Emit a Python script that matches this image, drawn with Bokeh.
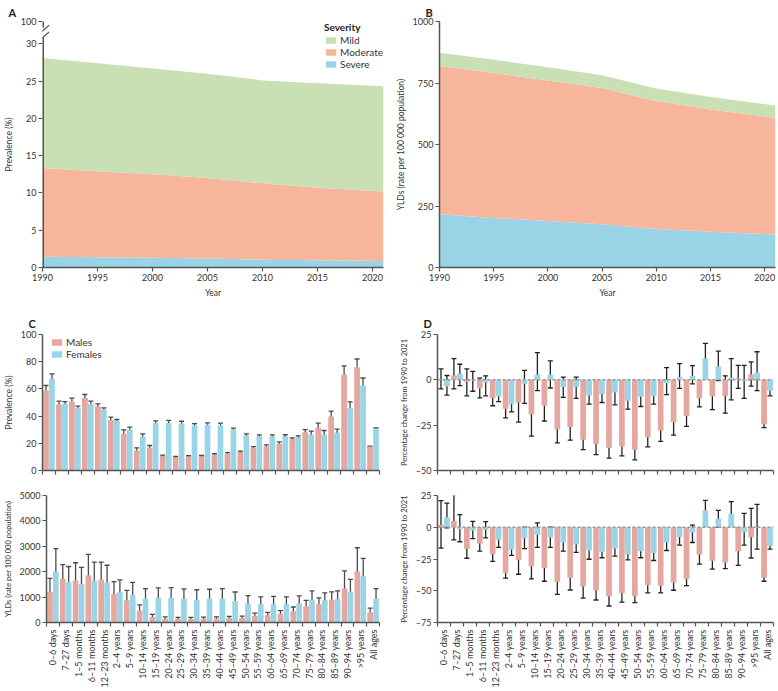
import numpy as np
from math import pi
from bokeh.plotting import figure
from bokeh.layouts import column, row
from bokeh.models import (ColumnDataSource, FixedTicker, Whisker, TeeHead, Legend,
                          LegendItem, Span, Arrow)
from bokeh.embed import file_html
from bokeh.resources import INLINE

# ---------------- data ----------------
years = [1990, 1995, 2000, 2005, 2010, 2015, 2021]
# Panel A: prevalence (%) by severity (component values)
prev_severe = [1.45, 1.38, 1.30, 1.20, 1.05, 0.97, 0.88]
prev_moderate = [11.90, 11.52, 11.20, 10.80, 10.25, 9.73, 9.32]
prev_mild = [14.75, 14.50, 14.20, 14.00, 13.80, 14.00, 14.10]
# Panel B: YLDs (rate per 100 000) by severity (component values)
yld_severe = [216, 201, 189, 176, 157, 145, 134]
yld_moderate = [603, 590, 571, 554, 520, 497, 475]
yld_mild = [54, 54, 54, 51, 51, 51, 49]

ages = ["0–6 days", "7–27 days", "1–5 months", "6–11 months", "12–23 months", "2–4 years",
        "5–9 years", "10–14 years", "15–19 years", "20–24 years", "25–29 years", "30–34 years",
        "35–39 years", "40–44 years", "45–49 years", "50–54 years", "55–59 years", "60–64 years",
        "65–69 years", "70–74 years", "75–79 years", "80–84 years", "85–89 years", "90–94 years",
        ">95 years", "All ages"]

# Panel C (top): prevalence (%) 2021
prev_m = [58.8, 48.5, 50.7, 53.4, 47.3, 37.2, 27.0, 14.7, 16.7, 10.5, 9.8, 10.3, 10.5, 11.5, 12.3, 13.5, 16.7, 17.6, 19.6, 23.0, 28.2, 31.4, 39.7, 70.6, 76.0, 17.6]
prev_m_lo = [54.4, 46.0, 47.8, 51.5, 45.3, 35.3, 25.0, 12.7, 15.2, 9.8, 9.3, 9.8, 10.0, 10.8, 11.5, 12.7, 15.7, 16.7, 18.1, 21.8, 26.5, 28.9, 34.8, 65.7, 71.0, 17.4]
prev_m_hi = [62.5, 51.0, 53.2, 55.9, 49.0, 39.2, 29.9, 16.7, 18.4, 11.3, 10.4, 10.9, 11.1, 12.3, 13.1, 14.2, 17.6, 18.9, 21.0, 24.0, 30.1, 34.8, 43.6, 77.0, 82.0, 17.9]
prev_f = [67.4, 49.0, 46.0, 49.0, 44.8, 36.5, 30.1, 25.0, 34.8, 35.0, 34.6, 33.1, 33.6, 33.1, 30.1, 25.7, 25.0, 25.0, 25.0, 24.5, 26.5, 26.5, 27.7, 46.0, 62.7, 31.1]
prev_f_lo = [65.0, 47.5, 44.6, 47.3, 43.4, 35.3, 28.2, 23.0, 33.1, 33.8, 33.0, 31.8, 32.2, 31.9, 29.0, 24.5, 24.0, 24.0, 23.8, 23.5, 25.0, 24.3, 25.0, 41.2, 58.0, 30.9]
prev_f_hi = [71.0, 50.7, 47.3, 51.0, 46.0, 37.5, 31.9, 27.0, 36.5, 36.8, 36.2, 34.4, 35.0, 34.8, 31.2, 27.0, 26.2, 26.2, 26.3, 25.5, 28.9, 29.4, 30.4, 50.5, 68.0, 31.4]

# Panel C (bottom): YLDs (rate per 100 000) 2021
yld_m = [1207, 1712, 1650, 1860, 1687, 1120, 874, 468, 220, 150, 135, 140, 150, 160, 175, 180, 265, 290, 340, 440, 640, 714, 900, 1342, 2007, 400]
yld_m_lo = [751, 1182, 1120, 1305, 1120, 690, 468, 308, 135, 85, 85, 90, 100, 105, 110, 115, 180, 190, 230, 300, 443, 505, 600, 874, 1268, 300]
yld_m_hi = [1736, 2278, 2352, 2685, 2377, 1613, 1268, 690, 320, 220, 200, 200, 215, 225, 240, 250, 370, 400, 470, 610, 874, 973, 1207, 2032, 2943, 566]
yld_f = [2007, 1589, 1515, 1650, 1576, 1195, 1084, 936, 960, 973, 936, 900, 936, 936, 850, 751, 714, 714, 714, 751, 900, 874, 911, 1207, 1823, 936]
yld_f_lo = [1367, 1120, 1059, 1084, 1120, 850, 714, 628, 660, 670, 640, 610, 640, 640, 590, 505, 480, 480, 480, 505, 603, 530, 530, 690, 1244, 603]
yld_f_hi = [2906, 2204, 2167, 2377, 2254, 1675, 1576, 1330, 1360, 1370, 1320, 1290, 1310, 1330, 1200, 1059, 1010, 1030, 1010, 1050, 1244, 1170, 1244, 1700, 2525, 1330]

# Panel D (top): % change in prevalence 1990-2021
chg_prev_m = [0.3, 2.4, -1.0, -4.7, -10.0, -16.0, -12.5, -19.0, -14.3, -27.4, -26.0, -33.0, -35.4, -37.6, -36.7, -38.5, -31.6, -28.0, -23.3, -20.0, -10.0, -9.0, -8.8, 0.9, 3.0, -24.5]
chg_prev_m_lo = [-5.0, -5.0, -8.8, -10.0, -14.3, -21.0, -23.3, -31.0, -22.7, -34.8, -33.3, -38.5, -41.3, -43.2, -41.9, -44.1, -37.0, -33.9, -30.5, -25.7, -14.9, -16.4, -18.4, -4.7, -3.5, -26.4]
chg_prev_m_hi = [6.0, 11.7, 6.0, 0.9, -4.5, -10.0, -2.8, -3.4, -3.7, -18.4, -16.2, -28.0, -29.8, -32.0, -31.5, -32.6, -25.5, -20.9, -16.6, -14.3, -4.1, -3.2, 2.2, 8.0, 9.9, -22.3]
chg_prev_f = [-3.5, 3.4, -0.3, -1.5, -9.0, -13.4, -2.2, 2.8, 2.8, -4.0, -4.0, -8.7, -7.8, -7.0, -11.5, -9.3, -9.0, -1.9, 1.5, 2.2, 11.7, 7.4, 1.1, -0.7, 4.0, -6.0]
chg_prev_f_lo = [-8.4, -3.2, -6.3, -8.8, -12.0, -17.7, -13.0, -6.0, -4.5, -9.7, -10.2, -13.4, -12.5, -13.8, -16.2, -14.7, -13.4, -8.2, -4.7, -2.2, 6.0, -0.4, -11.0, -10.2, -6.0, -8.8]
chg_prev_f_hi = [2.4, 8.6, 4.7, 2.2, -4.7, -8.8, 5.2, 15.0, 10.4, 1.5, 1.5, -3.5, -2.2, -1.0, -6.0, -2.2, -3.5, 6.7, 8.9, 7.8, 20.1, 15.8, 11.7, 8.0, 15.5, -5.0]

# Panel D (bottom): % change in YLDs 1990-2021
chg_yld_m = [2.0, 4.9, -17.0, -12.8, -21.2, -35.8, -25.7, -30.6, -32.0, -43.0, -40.0, -46.7, -49.6, -54.6, -52.0, -54.3, -45.4, -46.0, -43.5, -41.0, -21.5, -26.4, -27.7, -18.8, -7.9, -39.8]
chg_yld_m_lo = [-16.5, -10.0, -24.4, -18.8, -26.9, -40.0, -37.0, -40.7, -42.5, -52.8, -49.4, -55.8, -57.3, -62.0, -59.0, -59.3, -51.6, -51.6, -49.6, -46.0, -29.0, -33.0, -32.6, -30.0, -24.2, -42.5]
chg_yld_m_hi = [21.0, 25.7, -10.0, -7.6, -15.3, -30.6, -13.3, -16.8, -20.5, -33.0, -29.6, -36.5, -41.5, -47.0, -45.0, -47.2, -39.3, -40.0, -37.5, -35.6, -14.8, -19.8, -22.5, -0.5, 14.8, -36.8]
chg_yld_f = [7.9, -1.5, -2.5, -2.0, -9.9, -17.8, -8.6, -6.0, -8.0, -12.0, -13.3, -18.3, -19.5, -16.8, -21.5, -18.8, -20.2, -12.0, -7.9, -4.4, 13.3, 6.7, 10.4, -4.0, -0.5, -14.8]
chg_yld_f_lo = [-0.5, -11.4, -9.0, -8.4, -15.8, -22.2, -16.8, -15.8, -15.8, -18.8, -19.8, -25.2, -24.0, -22.7, -25.7, -24.0, -26.2, -18.3, -14.0, -12.0, 6.4, 0.0, 4.9, -14.0, -17.3, -17.3]
chg_yld_f_hi = [19.0, 10.0, 4.7, 4.4, -4.2, -12.6, 0.0, 3.5, 0.0, -6.0, -6.7, -13.3, -12.6, -11.6, -15.3, -10.9, -14.6, -5.2, -0.5, 1.7, 21.2, 13.3, 20.2, 10.9, 18.0, -13.3]

# ---------------- style ----------------
FONT = "Lato"
AX = "#555555"
TXT = "#333333"
C_MILD, C_MOD, C_SEV = "#c9dfb4", "#f7b69c", "#99d4e6"
C_M, C_F = "#e4a8a1", "#9ad5e7"

LW, RW = 392, 384
H1, H2, H3 = 300, 180, 210


def make_fig(w, h, xr, yr, mbl, mbr, mbt, mbb, letter, letter_offset, letter_standoff):
    p = figure(width=w, height=h, x_range=xr, y_range=yr, output_backend="svg",
               toolbar_location=None, min_border_left=mbl, min_border_right=mbr,
               min_border_top=mbt, min_border_bottom=mbb)
    p.xgrid.visible = False
    p.ygrid.visible = False
    p.outline_line_color = None
    if letter:
        p.title.text = letter
        p.title.text_font = FONT
        p.title.text_font_style = "bold"
        p.title.text_font_size = "11px"
        p.title.text_color = "#222222"
        p.title.align = "left"
        p.title.offset = letter_offset
        p.title.standoff = letter_standoff
    for ax in (p.xaxis[0], p.yaxis[0]):
        ax.axis_line_color = AX
        ax.axis_line_width = 1.5
        ax.major_tick_line_color = AX
        ax.major_tick_line_width = 1.2
        ax.major_tick_out = 4
        ax.major_tick_in = 0
        ax.minor_tick_line_color = None
        ax.major_label_text_font = FONT
        ax.major_label_text_font_size = "9px"
        ax.major_label_text_color = TXT
        ax.major_label_standoff = 2
        ax.axis_label_text_font = FONT
        ax.axis_label_text_font_size = "8.5px"
        ax.axis_label_text_font_style = "normal"
        ax.axis_label_text_color = TXT
        ax.axis_label_standoff = 4
    return p


def style_legend(leg):
    leg.label_text_font = FONT
    leg.label_text_font_size = "10px"
    leg.label_text_color = TXT
    leg.glyph_width = 13
    leg.glyph_height = 8
    leg.label_height = 10
    leg.label_standoff = 3
    leg.spacing = 0
    leg.padding = 0
    leg.margin = 0
    leg.border_line_color = None
    leg.background_fill_alpha = 0


def area_panel(comp, ymax, ticks, overrides, ylabel, w, mbl, mbr, letter, off):
    p = make_fig(w, H1, (1990, 2021), (0, ymax), mbl, mbr, 19, 33, letter, off, 6)
    src = ColumnDataSource(dict(year=years, severe=comp[0], moderate=comp[1], mild=comp[2]))
    rs = p.varea_stack(["severe", "moderate", "mild"], x="year", color=[C_SEV, C_MOD, C_MILD], source=src)
    p.xaxis.ticker = FixedTicker(ticks=[1990, 1995, 2000, 2005, 2010, 2015, 2020])
    p.yaxis.ticker = FixedTicker(ticks=ticks)
    p.yaxis.major_label_overrides = overrides
    p.xaxis.axis_label = "Year"
    p.yaxis.axis_label = ylabel
    return p, rs


# ---------------- A ----------------
pA, rsA = area_panel([prev_severe, prev_moderate, prev_mild], 33, [0, 5, 10, 15, 20, 25, 30, 33],
                     {33: "100"}, "Prevalence (%)", LW, 42, 9, "A", -34)
pA.yaxis.axis_line_color = None
for y0, y1 in ((0, 30.9), (32.2, 33)):
    pA.add_layout(Arrow(end=None, x_start=1990, y_start=y0, x_end=1990, y_end=y1,
                        line_color=AX, line_width=3))
for dy in (0.0, 0.9):
    pA.add_layout(Arrow(end=None, x_start=1989.5, y_start=30.2 + dy, x_end=1990.6, y_end=31.6 + dy,
                        line_color=AX, line_width=1.2))
legA = Legend(items=[LegendItem(label="Mild", renderers=[rsA[2]]),
                     LegendItem(label="Moderate", renderers=[rsA[1]]),
                     LegendItem(label="Severe", renderers=[rsA[0]])],
              location="top_right", title="Severity")
style_legend(legA)
legA.title_text_font = FONT
legA.title_text_font_style = "bold"
legA.title_text_font_size = "10px"
legA.title_text_color = "#222222"
legA.title_standoff = 1
pA.add_layout(legA)

# ---------------- B ----------------
pB, _ = area_panel([yld_severe, yld_moderate, yld_mild], 1000, [0, 250, 500, 750, 1000], {},
                   "YLDs (rate per 100 000 population)", RW, 45, 1, "B", -14)

# ---------------- bar panels ----------------
centers = list(range(len(ages)))
bounds = [i - 0.5 for i in range(len(ages) + 1)]
xm = [c - 0.23 for c in centers]
xf = [c + 0.23 for c in centers]


def bar_panel(w, h, mbl, mbr, mbt, mbb, yr, yticks, yover, ylabel, ylabel_size,
              vm, vm_lo, vm_hi, vf, vf_lo, vf_hi, labels, zero_line, wcol, letter=None):
    p = make_fig(w, h, (-0.5, len(ages) - 0.5), yr, mbl, mbr, mbt, mbb, letter, -14, 10)
    rends = []
    for xs, v, lo, hi, col in ((xm, vm, vm_lo, vm_hi, C_M), (xf, vf, vf_lo, vf_hi, C_F)):
        src = ColumnDataSource(dict(x=xs, top=v, lo=lo, hi=hi))
        rends.append(p.vbar(x="x", top="top", width=0.44, source=src, fill_color=col, line_color=None))
        p.add_layout(Whisker(source=src, base="x", upper="hi", lower="lo", line_color=wcol,
                             line_width=1.3,
                             upper_head=TeeHead(size=5, line_color=wcol, line_width=1.3),
                             lower_head=TeeHead(size=5, line_color=wcol, line_width=1.3)))
    if zero_line:
        p.add_layout(Span(location=0, dimension="width", line_color="#9a9a9a",
                          line_dash="3 2", line_width=1.5))
    p.yaxis.ticker = FixedTicker(ticks=yticks)
    p.yaxis.major_label_overrides = yover
    p.yaxis.axis_label = ylabel
    p.yaxis.axis_label_text_font_size = ylabel_size
    xa = p.xaxis[0]
    xa.minor_tick_line_color = AX
    xa.minor_tick_line_width = 1.2
    xa.minor_tick_out = 4
    xa.minor_tick_in = 0
    xa.major_tick_out = 0
    if labels:
        xa.ticker = FixedTicker(ticks=centers, minor_ticks=bounds)
        xa.major_label_overrides = {c: a for c, a in zip(centers, ages)}
        xa.major_label_orientation = pi / 2
        xa.major_label_text_font_size = "9px"
        xa.major_label_standoff = 3
    else:
        xa.ticker = FixedTicker(ticks=[], minor_ticks=bounds)
    return p, rends


pCt, rC = bar_panel(LW, H2, 42, 13, 34, 10, (0, 100), [0, 20, 40, 60, 80, 100], {}, "Prevalence (%)", "8.5px",
                    prev_m, prev_m_lo, prev_m_hi, prev_f, prev_f_lo, prev_f_hi, False, False, "#4a4a4a", "C")
legC = Legend(items=[LegendItem(label="Males", renderers=[rC[0]]),
                     LegendItem(label="Females", renderers=[rC[1]])],
              location=(8, 110))
style_legend(legC)
pCt.add_layout(legC)

pCb, _ = bar_panel(LW, H3, 42, 13, 15, 60, (0, 5000), [0, 1000, 2000, 3000, 4000, 5000], {},
                   "YLDs (rate per 100 000 population)", "7.5px",
                   yld_m, yld_m_lo, yld_m_hi, yld_f, yld_f_lo, yld_f_hi, True, False, "#4a4a4a")

dover = {-75: "–75", -50: "–50", -25: "–25"}
pDt, _ = bar_panel(RW, H2, 45, 3, 34, 10, (-50, 25), [-50, -25, 0, 25], dover,
                   "Percentage change from 1990 to 2021", "7.5px",
                   chg_prev_m, chg_prev_m_lo, chg_prev_m_hi, chg_prev_f, chg_prev_f_lo, chg_prev_f_hi,
                   False, True, "#222222", "D")

pDb, _ = bar_panel(RW, H3, 45, 3, 15, 60, (-75, 25), [-75, -50, -25, 0, 25], dover,
                   "Percentage change from 1990 to 2021", "7.5px",
                   chg_yld_m, chg_yld_m_lo, chg_yld_m_hi, chg_yld_f, chg_yld_f_lo, chg_yld_f_hi,
                   True, True, "#222222")

layout = column(row(pA, pB), row(pCt, pDt), row(pCb, pDb))
open("out.html", "w").write(file_html(layout, INLINE))
